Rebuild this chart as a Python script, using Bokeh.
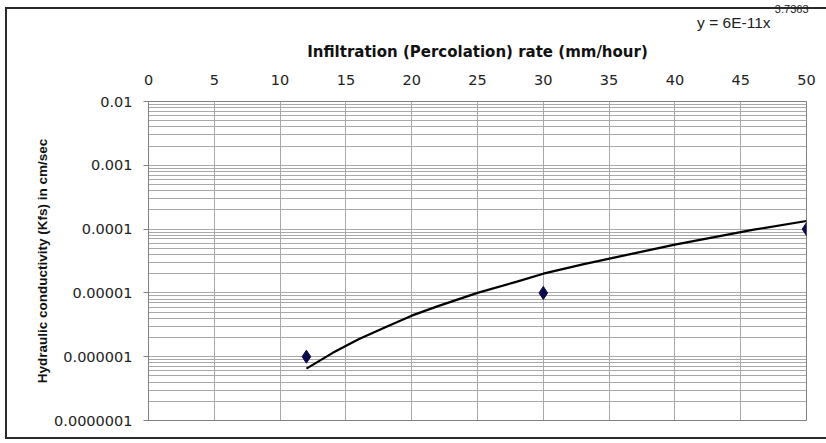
from bokeh.plotting import figure
from bokeh.models import FixedTicker, LinearAxis, LogAxis, Range1d, Title
from bokeh.embed import file_html
from bokeh.resources import INLINE

# ---- data ----
x_ticks = [0, 5, 10, 15, 20, 25, 30, 35, 40, 45, 50]
y_ticks = [1e-7, 1e-6, 1e-5, 1e-4, 1e-3, 1e-2]
y_tick_labels = ["0.0000001", "0.000001", "0.00001", "0.0001", "0.001", "0.01"]

rate = [12, 30, 50]                 # mm/hour
kfs = [1e-6, 1e-5, 1e-4]            # cm/sec

# trend line
trend_x = [12, 14, 16, 18, 20, 22, 25, 28, 30, 33, 36, 40, 43, 46, 50]
trend_y = [6.5e-7, 1.15e-6, 1.9e-6, 2.9e-6, 4.4e-6, 6.2e-6, 1.0e-5, 1.5e-5,
           2.0e-5, 2.8e-5, 3.8e-5, 5.7e-5, 7.5e-5, 9.8e-5, 1.34e-4]

equation = "y = 6E-11x"
exponent = "3.7363"
x_title = "Infiltration (Percolation) rate (mm/hour)"
y_title = "Hydraulic conductivity (Kfs) in cm/sec"

GRID = "#a8a8a8"
BORDER = "#2a2a2a"

# outer chart border drawn as CSS background lines behind a transparent canvas
border_css = {
    "background-color": "white",
    "background-image": ", ".join([f"linear-gradient({BORDER}, {BORDER})"] * 3),
    "background-size": "2px 432px, 830px 2px, 830px 2px",
    "background-position": "5px 7px, 5px 7px, 5px 437px",
    "background-repeat": "no-repeat",
}

p = figure(width=826, height=441, y_axis_type="log",
           x_range=Range1d(0, 50), y_range=Range1d(1e-7, 1e-2),
           x_axis_location=None, y_axis_location=None,
           output_backend="svg", toolbar_location=None,
           min_border_left=148, min_border_right=20,
           min_border_top=101, min_border_bottom=21,
           styles=border_css)

p.background_fill_color = "white"
p.border_fill_color = None
p.outline_line_color = "#808080"
p.outline_line_width = 1

# top x axis
xa = LinearAxis(ticker=FixedTicker(ticks=x_ticks), axis_label=x_title)
xa.axis_line_color = None
xa.major_tick_line_color = None
xa.minor_tick_line_color = None
xa.major_tick_out = 0
xa.major_tick_in = 0
xa.major_label_standoff = 17
xa.major_label_text_font = "DejaVu Sans"
xa.major_label_text_font_size = "14.5px"
xa.major_label_text_color = "#222222"
xa.axis_label_text_font = "DejaVu Sans"
xa.axis_label_text_font_style = "bold"
xa.axis_label_text_font_size = "15px"
xa.axis_label_text_color = "#111111"
xa.axis_label_standoff = 11
p.add_layout(xa, "above")

minor = []
for e in range(-7, -2):
    for m in range(2, 10):
        minor.append(m * 10.0 ** e)

ya = LogAxis(ticker=FixedTicker(ticks=y_ticks, minor_ticks=minor))
ya.major_label_overrides = {t: l for t, l in zip(y_ticks, y_tick_labels)}
ya.axis_line_color = "#808080"
ya.major_tick_line_color = "#808080"
ya.major_tick_out = 5
ya.major_tick_in = 0
ya.minor_tick_line_color = None
ya.major_label_standoff = 11
ya.major_label_text_font = "DejaVu Sans"
ya.major_label_text_font_size = "14.5px"
ya.major_label_text_color = "#222222"
p.add_layout(ya, "left")

p.xgrid.ticker = FixedTicker(ticks=x_ticks)
p.xgrid.grid_line_color = GRID
p.ygrid.ticker = FixedTicker(ticks=y_ticks, minor_ticks=minor)
p.ygrid.grid_line_color = GRID
p.ygrid.minor_grid_line_color = GRID

p.line(trend_x, trend_y, line_color="black", line_width=2.2)
p.scatter(rate, kfs, marker="diamond", size=13, fill_color="#0a0a4a",
          line_color="#0a0a4a")

# y axis title (centred on the whole chart rather than the plot frame)
p.add_layout(Title(text=y_title, align="center", offset=27, standoff=4,
                   text_font="Liberation Sans", text_font_style="bold",
                   text_font_size="13.5px", text_color="#111111"), "left")

# trend-line equation with superscript exponent
p.add_layout(Title(text=equation, align="right", offset=36, standoff=17,
                   text_font="Liberation Sans", text_font_style="normal",
                   text_font_size="15.5px", text_color="#222222"), "above")
p.add_layout(Title(text=exponent, align="right", offset=-2, standoff=-18,
                   text_font="Liberation Sans", text_font_style="normal",
                   text_font_size="11px", text_color="#222222"), "above")

open("out.html", "w").write(file_html(p, INLINE))
